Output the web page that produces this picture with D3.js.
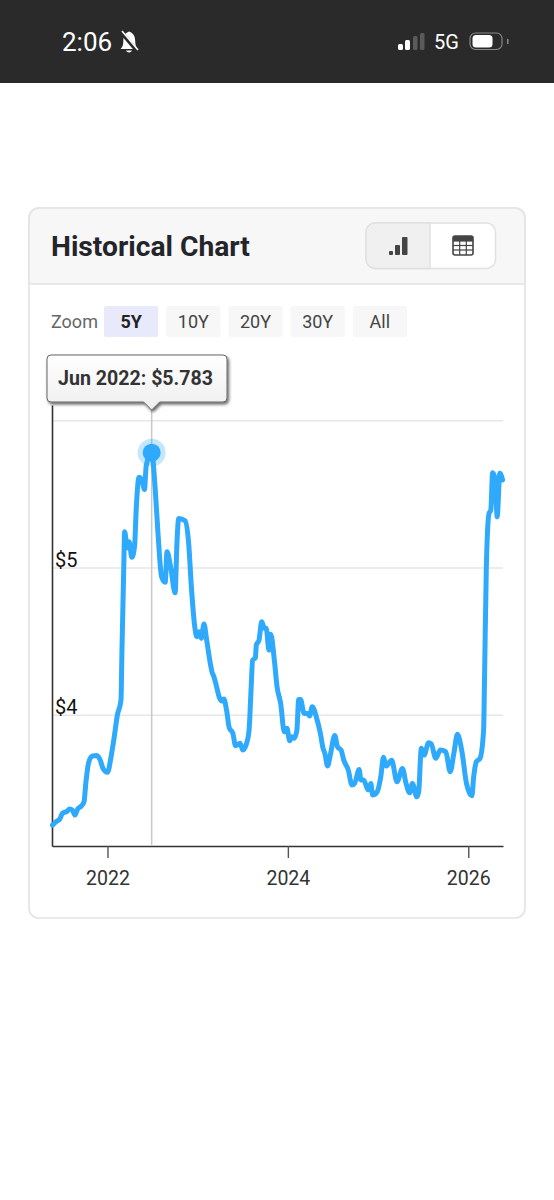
<!DOCTYPE html>
<html>
<head>
<meta charset="utf-8">
<script src="https://cdn.jsdelivr.net/npm/d3@7"></script>
<style>
  html, body { margin: 0; padding: 0; background: #fff; }
  svg { display: block; }
  text { font-family: Roboto, "Liberation Sans", sans-serif; }
</style>
</head>
<body>
<svg class="main-svg" width="554" height="1200"></svg>
<script>
// values, years are decimal
var years = [
  2021.39,2021.44,2021.47,2021.50,2021.55,2021.58,2021.61,2021.64,2021.67,2021.71,
  2021.74,2021.76,2021.79,2021.83,2021.88,2021.92,2021.95,2022.00,2022.04,2022.07,
  2022.11,2022.15,2022.16,2022.18,2022.19,2022.22,2022.24,2022.27,2022.30,2022.32,
  2022.35,2022.38,2022.41,2022.43,2022.49,2022.53,2022.56,2022.60,2022.64,2022.66,
  2022.70,2022.75,2022.77,2022.79,2022.86,2022.90,2022.93,2022.97,2022.99,2023.02,
  2023.04,2023.07,2023.10,2023.14,2023.16,2023.18,2023.21,2023.24,2023.27,2023.29,
  2023.32,2023.35,2023.39,2023.42,2023.47,2023.50,2023.54,2023.57,2023.59,2023.61,
  2023.64,2023.65,2023.68,2023.71,2023.74,2023.76,2023.79,2023.81,2023.85,2023.88,
  2023.92,2023.96,2023.99,2024.02,2024.04,2024.07,2024.10,2024.12,2024.14,2024.18,
  2024.22,2024.24,2024.27,2024.32,2024.36,2024.39,2024.41,2024.44,2024.47,2024.52,
  2024.55,2024.59,2024.62,2024.67,2024.71,2024.74,2024.79,2024.81,2024.84,2024.89,
  2024.92,2024.94,2024.99,2025.03,2025.06,2025.09,2025.15,2025.21,2025.27,2025.31,
  2025.35,2025.38,2025.43,2025.45,2025.48,2025.51,2025.56,2025.59,2025.64,2025.69,
  2025.75,2025.80,2025.84,2025.88,2025.93,2025.98,2026.04,2026.06,2026.09,2026.13,
  2026.17,2026.18,2026.20,2026.23,2026.25,2026.27,2026.30,2026.32,2026.35,2026.38
];
var prices = [
  3.255,3.282,3.294,3.334,3.348,3.364,3.357,3.323,3.364,3.384,
  3.413,3.540,3.676,3.723,3.728,3.696,3.640,3.613,3.719,3.832,
  4.002,4.104,4.423,4.986,5.246,5.136,5.179,5.073,5.145,5.416,
  5.616,5.602,5.534,5.699,5.783,5.530,5.236,4.941,4.903,5.111,
  5.009,4.832,5.168,5.337,5.321,5.168,4.873,4.591,4.534,4.567,
  4.523,4.620,4.511,4.353,4.292,4.262,4.194,4.122,4.097,4.111,
  4.036,3.916,3.878,3.793,3.810,3.764,3.805,3.900,4.149,4.375,
  4.391,4.477,4.511,4.635,4.591,4.591,4.443,4.550,4.375,4.194,
  4.081,3.888,3.912,3.827,3.855,3.844,3.900,4.108,4.108,4.013,
  4.013,3.995,4.058,3.979,3.878,3.776,3.742,3.656,3.730,3.863,
  3.787,3.764,3.696,3.628,3.527,3.538,3.633,3.561,3.561,3.493,
  3.538,3.459,3.481,3.583,3.715,3.656,3.696,3.549,3.640,3.538,
  3.474,3.538,3.447,3.481,3.776,3.730,3.814,3.805,3.708,3.764,
  3.753,3.617,3.742,3.871,3.753,3.538,3.454,3.583,3.685,3.708,
  3.900,4.240,5.000,5.371,5.394,5.647,5.598,5.348,5.643,5.598
];
var yearTicks = [2022, 2024, 2026];
var priceTicks = [4, 5, 6];
var zoomLabels = ['5Y', '10Y', '20Y', '30Y', 'All'];
var tooltipText = 'Jun 2022: $5.783';

var lineColour = '#2fa9fb',
    gridColour = '#e6e6e6',
    axisColour = '#333',
    plotLeft = 52,
    plotRight = 503,
    plotTop = 405,
    plotBottom = 846;

var svg = d3.select('.main-svg');

// status bar
svg.append('rect').attr('width', 554).attr('height', 83).attr('fill', '#2a2a2a');
svg.append('text').attr('x', 62).attr('y', 50.5).attr('fill', '#fff')
  .attr('font-size', 26).attr('font-weight', 400).text('2:06');
var bell = svg.append('g').attr('transform', 'translate(129,41)');
bell.append('path').attr('fill', '#fff')
  .attr('d', 'M-8.5,8 C-5,5 -6,1 -5.5,-3 C-5,-7 -2.5,-8.5 0,-9.5 C3,-8.5 5.5,-6.5 6,-2 C6.5,2 6,5 9,8 Z M-3,9.5 H3 C2,12 -2,12 -3,9.5 Z');
bell.append('line').attr('x1', -8).attr('y1', -9).attr('x2', 9).attr('y2', 11)
  .attr('stroke', '#2a2a2a').attr('stroke-width', 4);
bell.append('line').attr('x1', -7).attr('y1', -10).attr('x2', 9).attr('y2', 9)
  .attr('stroke', '#fff').attr('stroke-width', 1.6);
var signal = [[398, 44, 5, '#fff'], [405, 40, 5, '#fff'], [413, 36, 4.5, '#5a5a5a'], [420, 33, 4.5, '#5a5a5a']];
svg.selectAll('.signal').data(signal).enter().append('rect')
  .attr('class', 'signal')
  .attr('x', d => d[0]).attr('y', d => d[1])
  .attr('width', d => d[2]).attr('height', d => 50 - d[1])
  .attr('rx', 1.5).attr('fill', d => d[3]);
svg.append('text').attr('x', 434).attr('y', 48.5).attr('fill', '#fff')
  .attr('font-size', 20).text('5G');
svg.append('rect').attr('x', 470).attr('y', 33).attr('width', 32).attr('height', 16.5).attr('rx', 5.5)
  .attr('fill', 'none').attr('stroke', '#888').attr('stroke-width', 1.2);
svg.append('rect').attr('x', 472.5).attr('y', 35).attr('width', 20).attr('height', 12.5).attr('rx', 3.5)
  .attr('fill', '#fff');
svg.append('rect').attr('x', 507).attr('y', 39).attr('width', 1.5).attr('height', 5).attr('fill', '#888');

// card and header
svg.append('rect').attr('x', 29).attr('y', 208).attr('width', 496).attr('height', 710).attr('rx', 10)
  .attr('fill', '#fff').attr('stroke', '#e3e3e3').attr('stroke-width', 1.6);
svg.append('path').attr('fill', '#f7f7f7').attr('stroke', '#e3e3e3').attr('stroke-width', 1.6)
  .attr('d', 'M29,284 V218 A10,10 0 0 1 39,208 H515 A10,10 0 0 1 525,218 V284 Z');
svg.append('text').attr('x', 51).attr('y', 256).attr('fill', '#23252a')
  .attr('font-size', 28.2).attr('font-weight', 700).text('Historical Chart');

svg.append('rect').attr('x', 366).attr('y', 223).attr('width', 129.5).attr('height', 45.5).attr('rx', 9)
  .attr('fill', '#fff').attr('stroke', '#e0e0e0').attr('stroke-width', 1.4);
svg.append('path').attr('fill', '#f0f0f0').attr('stroke', '#e0e0e0').attr('stroke-width', 1.4)
  .attr('d', 'M430,223 H375 A9,9 0 0 0 366,232 V259.5 A9,9 0 0 0 375,268.5 H430 Z');
var barIcon = [[389, 251, 4, 4], [395, 245, 5, 10], [402, 237, 5.5, 18]];
svg.selectAll('.bar-icon').data(barIcon).enter().append('rect')
  .attr('class', 'bar-icon')
  .attr('x', d => d[0]).attr('y', d => d[1])
  .attr('width', d => d[2]).attr('height', d => d[3])
  .attr('rx', 1).attr('fill', '#444');
var table = svg.append('g').attr('transform', 'translate(453,236)');
table.append('rect').attr('width', 20).attr('height', 19).attr('rx', 2)
  .attr('fill', 'none').attr('stroke', '#444').attr('stroke-width', 1.6);
table.append('rect').attr('width', 20).attr('height', 5).attr('fill', '#444');
[5, 9.5, 14].forEach(function (y) {
  table.append('line').attr('x1', 0).attr('x2', 20).attr('y1', y).attr('y2', y)
    .attr('stroke', '#444').attr('stroke-width', 1.2);
});
[6.7, 13.3].forEach(function (x) {
  table.append('line').attr('x1', x).attr('x2', x).attr('y1', 5).attr('y2', 19)
    .attr('stroke', '#444').attr('stroke-width', 1.2);
});

// zoom buttons
svg.append('text').attr('x', 51).attr('y', 327.5).attr('fill', '#666')
  .attr('font-size', 18).text('Zoom');
var zoomBand = d3.scaleBand().domain(zoomLabels).range([104, 407]).paddingInner(0.127);
var btn = svg.selectAll('.zoom-btn').data(zoomLabels).enter().append('g').attr('class', 'zoom-btn');
btn.append('rect')
  .attr('x', d => zoomBand(d)).attr('y', 306)
  .attr('width', zoomBand.bandwidth()).attr('height', 31).attr('rx', 2)
  .attr('fill', (d, i) => i === 0 ? '#e8eafc' : '#f7f7f7');
btn.append('text')
  .attr('x', d => zoomBand(d) + zoomBand.bandwidth() / 2).attr('y', 327.5)
  .attr('text-anchor', 'middle').attr('font-size', 18)
  .attr('font-weight', (d, i) => i === 0 ? 700 : 400)
  .attr('fill', (d, i) => i === 0 ? '#222' : '#444')
  .text(d => d);

// scales
var x = d3.scaleLinear()
  .domain([2021.385, 2026.385])
  .range([plotLeft, plotRight]);
var y = d3.scaleLinear()
  .domain([3.113, 6.107])
  .range([plotBottom, plotTop]);

// grid
svg.append('g').selectAll('line').data(priceTicks).enter().append('line')
  .attr('x1', plotLeft).attr('x2', plotRight)
  .attr('y1', d => y(d)).attr('y2', d => y(d))
  .attr('stroke', gridColour).attr('stroke-width', 1.5);

// axes
var xAxis = svg.append('g')
  .attr('transform', 'translate(0,' + plotBottom + ')')
  .call(d3.axisBottom(x).tickValues(yearTicks).tickFormat(d3.format('d')).tickSize(12).tickSizeOuter(0));
xAxis.select('.domain').attr('stroke', axisColour).attr('stroke-width', 1.6);
xAxis.selectAll('.tick line').attr('stroke', '#555').attr('stroke-width', 1.4);
xAxis.selectAll('.tick text')
  .attr('font-size', 19.5).attr('fill', '#333').attr('y', 25).attr('dy', '0.71em')
  .style('font-family', 'Roboto, "Liberation Sans", sans-serif');

var yAxis = svg.append('g')
  .attr('transform', 'translate(' + plotLeft + ',0)')
  .call(d3.axisLeft(y).tickValues(priceTicks.slice(0, 2)).tickFormat(d => '$' + d).tickSize(0));
yAxis.select('.domain').attr('stroke', axisColour).attr('stroke-width', 1.6);
yAxis.selectAll('.tick text')
  .attr('text-anchor', 'start').attr('x', 3).attr('dy', 0).attr('y', -2)
  .attr('font-size', 20).attr('fill', '#111')
  .style('font-family', 'Roboto, "Liberation Sans", sans-serif');

// crosshair at the highest point
var peak = d3.maxIndex(prices);
svg.append('line')
  .attr('x1', x(years[peak])).attr('x2', x(years[peak]))
  .attr('y1', plotTop).attr('y2', plotBottom)
  .attr('stroke', '#c8c8c8').attr('stroke-width', 1.5);

// price line
var line = d3.line()
  .x((d, i) => x(years[i]))
  .y(d => y(d))
  .curve(d3.curveMonotoneX);
svg.append('path').datum(prices)
  .attr('d', line)
  .attr('fill', 'none')
  .attr('stroke', lineColour)
  .attr('stroke-width', 5)
  .attr('stroke-linejoin', 'round')
  .attr('stroke-linecap', 'round');

svg.append('circle').attr('cx', x(years[peak])).attr('cy', y(prices[peak])).attr('r', 14)
  .attr('fill', lineColour).attr('opacity', 0.28);
svg.append('circle').attr('cx', x(years[peak])).attr('cy', y(prices[peak])).attr('r', 9)
  .attr('fill', lineColour);

// tooltip
var defs = svg.append('defs');
var grad = defs.append('linearGradient').attr('id', 'tipFill').attr('x1', 0).attr('y1', 0).attr('x2', 0).attr('y2', 1);
grad.append('stop').attr('offset', '0%').attr('stop-color', '#fff');
grad.append('stop').attr('offset', '100%').attr('stop-color', '#eee');
var shadow = defs.append('filter').attr('id', 'tipShadow')
  .attr('x', '-10%').attr('y', '-20%').attr('width', '120%').attr('height', '150%');
shadow.append('feDropShadow').attr('dx', 1.5).attr('dy', 2).attr('stdDeviation', 1.6)
  .attr('flood-color', '#000').attr('flood-opacity', 0.6);

var tipX = x(years[peak]);
svg.append('path')
  .attr('d', 'M51,355 H223 A4,4 0 0 1 227,359 V398 A4,4 0 0 1 223,402 H' + (tipX + 8) + ' L' + tipX + ',410 L' + (tipX - 8) + ',402 H51 A4,4 0 0 1 47,398 V359 A4,4 0 0 1 51,355 Z')
  .attr('fill', 'url(#tipFill)')
  .attr('stroke', '#666').attr('stroke-width', 1)
  .attr('filter', 'url(#tipShadow)');
svg.append('text').attr('x', 58).attr('y', 384.5).attr('fill', '#333')
  .attr('font-size', 19.6).attr('font-weight', 700).text(tooltipText);
</script>
</body>
</html>
